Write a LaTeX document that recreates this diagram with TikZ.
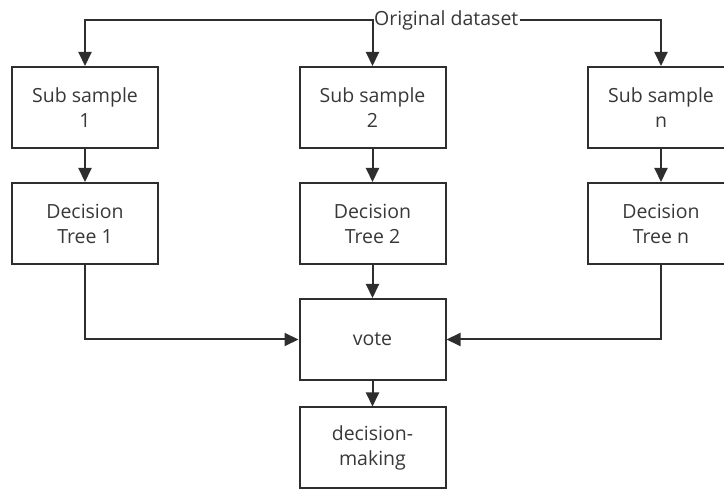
\documentclass[tikz,border=0pt]{standalone}
\usepackage{fontspec}
\setmainfont{Open Sans}
\usetikzlibrary{arrows.meta}
\begin{document}
\begin{tikzpicture}[x=1pt,y=-1pt,line join=miter,font=\fontsize{19.5}{25}\selectfont]
\colorlet{linec}{black!82}
\colorlet{txtc}{black!78}

\tikzset{
box/.style={draw=linec, line width=2pt, text=txtc, minimum width=146pt, minimum height=81pt, align=center, inner sep=0pt},
flow/.style={draw=linec, line width=2pt, -{Triangle[length=14pt,width=13pt]}}
}

\useasboundingbox (0,0) rectangle (724,489);

\node[fill=white, text=txtc, inner sep=1pt, anchor=west] (data) at (373,20) {Original dataset};

\node[box] (ss1) at (85,107.5) {Sub sample\\1};
\node[box] (ss2) at (372.5,107.5) {Sub sample\\2};
\node[box] (ssn) at (661,107.5) {Sub sample\\n};

\node[box] (dt1) at (85,223.5) {Decision\\Tree 1};
\node[box] (dt2) at (372.5,223.5) {Decision\\Tree 2};
\node[box] (dtn) at (661,223.5) {Decision\\Tree n};

\node[box] (vote) at (372.5,339.5) {vote};
\node[box] (dm) at (372.5,448) {decision-\\making};

\draw[flow] (data.west) -| (ss1.north);
\draw[flow] (data.west) -| (ss2.north);
\draw[flow] (data.east) -| (ssn.north);

\draw[flow] (ss1) -- (dt1);
\draw[flow] (ss2) -- (dt2);
\draw[flow] (ssn) -- (dtn);

\draw[flow] (dt1.south) |- (vote.west);
\draw[flow] (dt2) -- (vote);
\draw[flow] (dtn.south) |- (vote.east);

\draw[flow] (vote) -- (dm);
\end{tikzpicture}
\end{document}
